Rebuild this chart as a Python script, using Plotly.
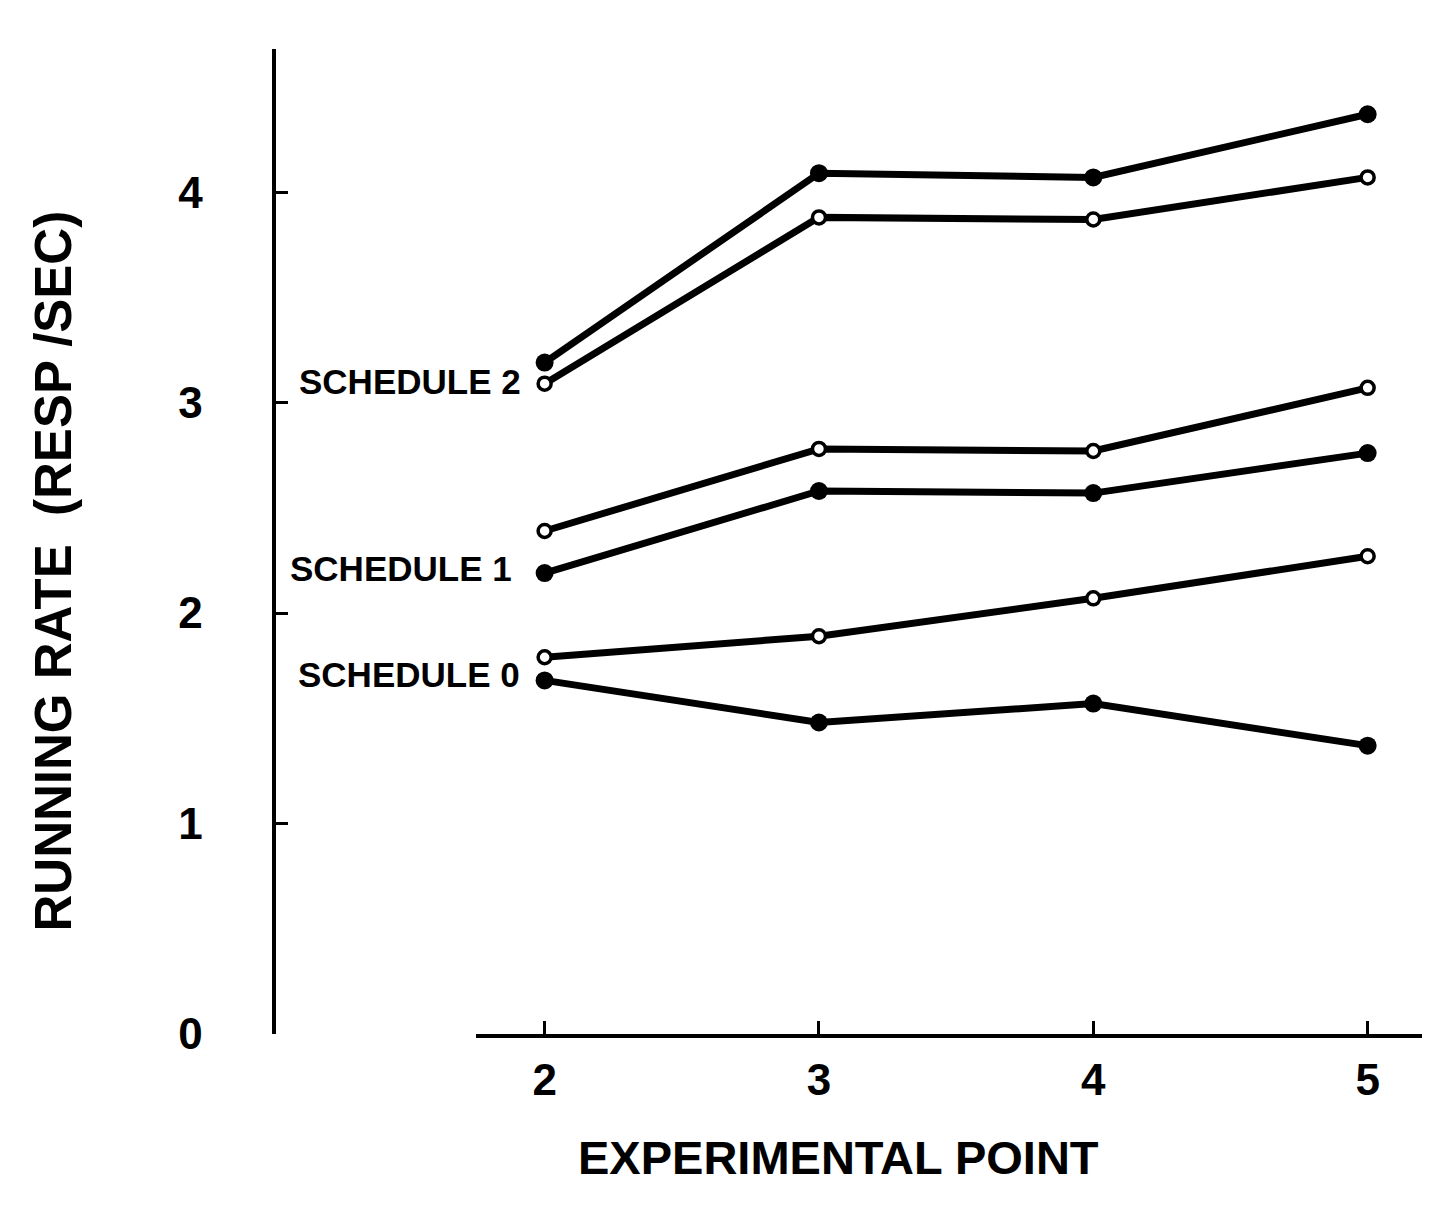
import plotly.graph_objects as go

# ---- data (corrected for the scan's tilt) ----
experimental_points = [2, 3, 4, 5]

sched2_filled = [3.19, 4.09, 4.07, 4.37]
sched2_open   = [3.09, 3.88, 3.87, 4.07]
sched1_open   = [2.39, 2.78, 2.77, 3.07]
sched1_filled = [2.19, 2.58, 2.57, 2.76]
sched0_open   = [1.79, 1.89, 2.07, 2.27]
sched0_filled = [1.68, 1.48, 1.57, 1.37]

x_ticks = [2, 3, 4, 5]
y_ticks = [0, 1, 2, 3, 4]

schedule_labels = ["SCHEDULE 2", "SCHEDULE 1", "SCHEDULE 0"]
y_title = "RUNNING RATE  (RESP /SEC)"
x_title = "EXPERIMENTAL POINT"

FONT = "Liberation Sans, Arial, sans-serif"

fig = go.Figure()

def add_series(values, filled, name):
    if filled:
        marker = dict(symbol="circle", size=18, color="black",
                      line=dict(color="black", width=0))
    else:
        marker = dict(symbol="circle", size=13, color="white",
                      line=dict(color="black", width=3.5))
    fig.add_trace(go.Scatter(
        x=experimental_points, y=values, mode="lines+markers",
        line=dict(color="black", width=7),
        marker=marker, name=name, showlegend=False, cliponaxis=False))

add_series(sched2_filled, True, "Schedule 2 (filled)")
add_series(sched2_open, False, "Schedule 2 (open)")
add_series(sched1_open, False, "Schedule 1 (open)")
add_series(sched1_filled, True, "Schedule 1 (filled)")
add_series(sched0_open, False, "Schedule 0 (open)")
add_series(sched0_filled, True, "Schedule 0 (filled)")

label_pos = [(1.92, 3.10), (1.89, 2.21), (1.917, 1.71)]
annotations = []
for text, (lx, ly) in zip(schedule_labels, label_pos):
    annotations.append(dict(
        x=lx, y=ly, xref="x", yref="y", text=text, showarrow=False,
        xanchor="right", yanchor="middle",
        font=dict(family=FONT, size=35, color="black", weight="bold")))

annotations.append(dict(
    x=0.032, y=0.47, xref="paper", yref="paper", text=y_title,
    showarrow=False, textangle=-90, xanchor="center", yanchor="middle",
    font=dict(family=FONT, size=51, color="black", weight="bold")))
annotations.append(dict(
    x=0.585, y=-0.125, xref="paper", yref="paper", text=x_title,
    showarrow=False, xanchor="center", yanchor="middle",
    font=dict(family=FONT, size=47, color="black", weight="bold")))

fig.update_layout(
    width=1430, height=1213,
    margin=dict(l=0, r=10, t=41, b=187),
    paper_bgcolor="white", plot_bgcolor="white",
    showlegend=False,
    annotations=annotations,
    xaxis=dict(
        range=[1.75, 5.22], domain=[0.3296, 1.0], anchor="y",
        tickvals=x_ticks, ticktext=[str(v) for v in x_ticks],
        ticks="inside", ticklen=13, tickwidth=3, tickcolor="black",
        showline=True, linewidth=4, linecolor="black",
        showgrid=False, zeroline=False,
        tickfont=dict(family=FONT, size=44, color="black", weight="bold"),
        ticklabelstandoff=4,
    ),
    yaxis=dict(
        range=[0, 4.68], domain=[0, 1], anchor="free", position=0.187,
        tickvals=y_ticks, ticktext=[str(v) for v in y_ticks],
        ticks="inside", ticklen=12, tickwidth=3, tickcolor="black",
        showline=True, linewidth=4, linecolor="black",
        showgrid=False, zeroline=False,
        tickfont=dict(family=FONT, size=44, color="black", weight="bold"),
        ticklabelstandoff=60,
    ),
)

fig.write_html("out.html")
